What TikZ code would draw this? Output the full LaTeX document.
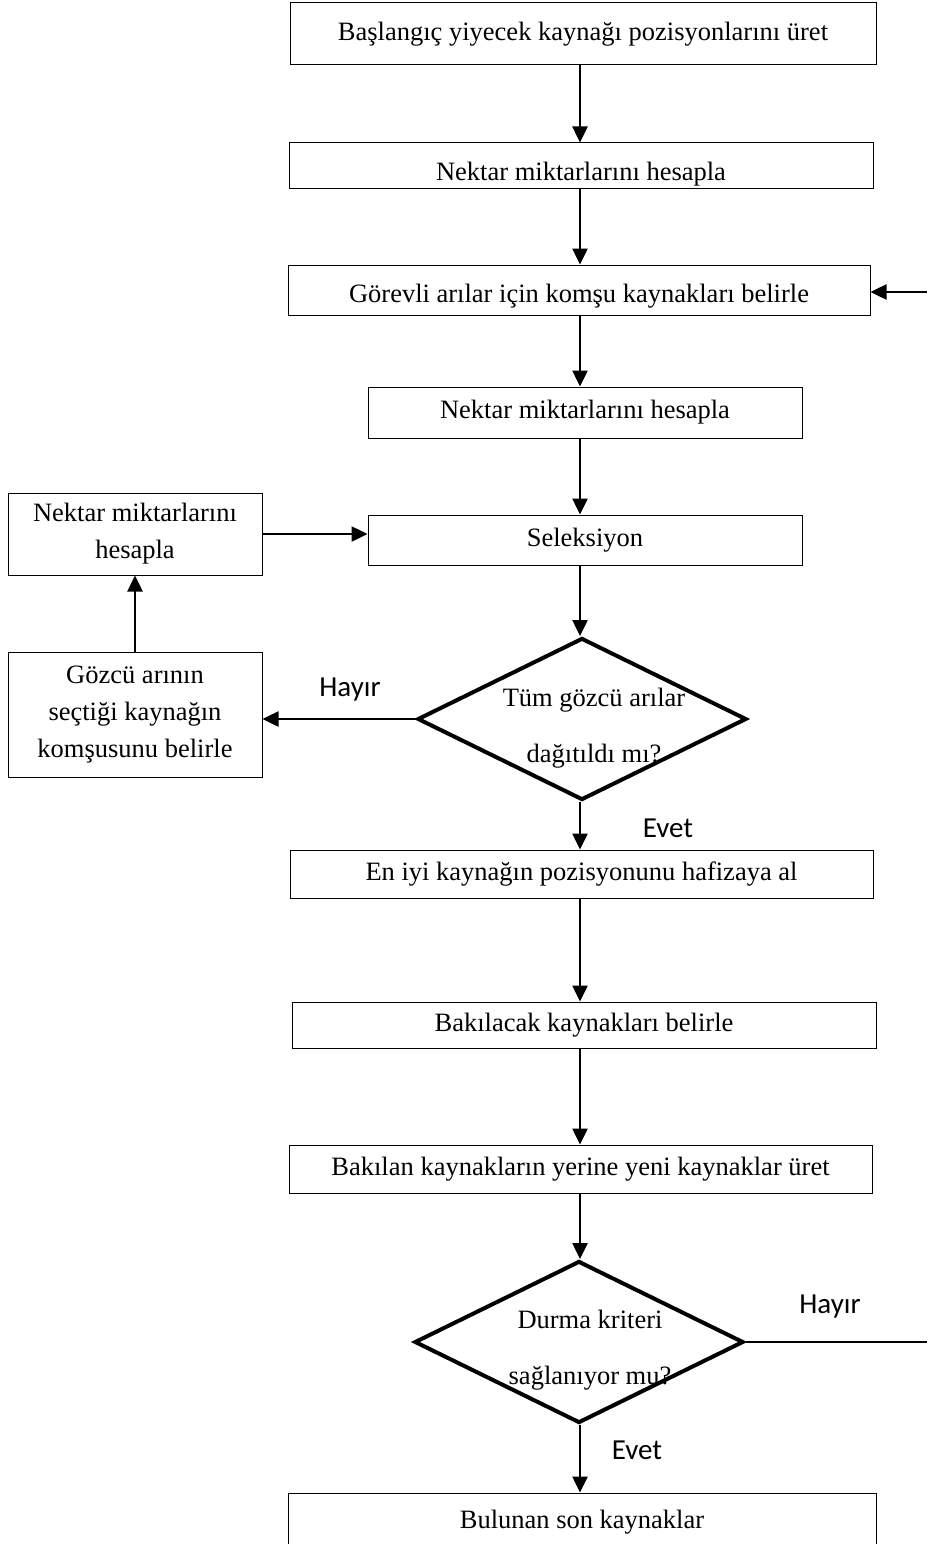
\documentclass[tikz,border=0pt]{standalone}
\usepackage{fontspec}
\setmainfont{Liberation Serif}
\newfontfamily\labelfont{Carlito}
\usetikzlibrary{arrows.meta,shapes.geometric}
\begin{document}
\begin{tikzpicture}[x=1pt,y=-1pt,
  box/.style={draw, line width=1pt, inner sep=0pt, align=center,
    font=\fontsize{26.5}{37}\selectfont},
  dia/.style={draw, diamond, line width=4pt, inner sep=0pt,
    minimum width=329pt, minimum height=162pt},
  diatext/.style={align=center, font=\fontsize{26.5}{56}\selectfont},
  flow/.style={line width=2.5pt, -{Triangle[length=16pt,width=15pt]}},
  plain/.style={line width=2.5pt},
  lbl/.style={font=\labelfont\fontsize{29}{32}\selectfont}]
\useasboundingbox (0,0) rectangle (927,1544);
\coordinate (col) at (580,0);

% main column
\node[box, minimum width=586pt, minimum height=62pt] (b1) at (583,34)
  {Başlangıç yiyecek kaynağı pozisyonlarını üret};
\node[box, minimum width=584pt, minimum height=45pt] (b2) at (581,165.5)
  {\raisebox{-6pt}[\height][0pt]{Nektar miktarlarını hesapla}};
\node[box, minimum width=582pt, minimum height=50pt] (b3) at (579,290)
  {\raisebox{-3pt}[\height][0pt]{Görevli arılar için komşu kaynakları belirle}};
\node[box, minimum width=434pt, minimum height=51pt] (b4) at (585,412.5)
  {Nektar miktarlarını hesapla};
\node[box, minimum width=434pt, minimum height=50pt] (b5) at (585,540)
  {Seleksiyon};
\node[dia] (d1) at (582,719) {};
\node[diatext] at (594,728) {Tüm gözcü arılar\\dağıtıldı mı?};
\node[box, minimum width=583pt, minimum height=48pt] (b9) at (581.5,874)
  {En iyi kaynağın pozisyonunu hafizaya al};
\node[box, minimum width=584pt, minimum height=46pt] (b10) at (584,1025)
  {Bakılacak kaynakları belirle};
\node[box, minimum width=583pt, minimum height=48pt] (b11) at (580.5,1169)
  {Bakılan kaynakların yerine yeni kaynaklar üret};
\node[dia] (d2) at (579,1342) {};
\node[diatext] at (590,1350) {Durma kriteri\\sağlanıyor mu?};
\node[box, minimum width=588pt, minimum height=58pt] (b13) at (582,1522)
  {Bulunan son kaynaklar};

% side branch
\node[box, minimum width=254pt, minimum height=82pt] (b6) at (135,534)
  {Nektar miktarlarını\\hesapla};
\node[box, minimum width=254pt, minimum height=125pt] (b7) at (135,714.5)
  {Gözcü arının\\seçtiği kaynağın\\komşusunu belirle};

% main flow
\draw[flow] (b1.south -| col) -- (b2.north -| col);
\draw[flow] (b2.south -| col) -- (b3.north -| col);
\draw[flow] (b3.south -| col) -- (b4.north -| col);
\draw[flow] (b4.south -| col) -- (b5.north -| col);
\draw[flow] (b5.south -| col) -- (d1.north -| col);
\draw[flow] (d1.south -| col) -- (b9.north -| col);
\draw[flow] (b9.south -| col) -- (b10.north -| col);
\draw[flow] (b10.south -| col) -- (b11.north -| col);
\draw[flow] (b11.south -| col) -- (d2.north -| col);
\draw[flow] (d2.south -| col) -- (b13.north -| col);

% side loop
\draw[flow] (d1.west) -- (b7.east |- d1.west);
\draw[flow] (b7.north) -- (b6.south);
\draw[flow] (b6.east) -- (b5.west |- b6.east);

% return loop along the right edge
\coordinate (r1) at (927,1342);
\coordinate (r2) at (927,292);
\draw[plain] (d2.east) -- (r1);
\draw[flow] (r2) -- (b3.east |- r2);

% branch labels
\node[lbl] (h1) at (350,690) {Hayır};
\node[lbl] (e1) at (668,828) {Evet};
\node[lbl] (h2) at (830,1307) {Hayır};
\node[lbl] (e2) at (637,1450) {Evet};
\end{tikzpicture}
\end{document}
